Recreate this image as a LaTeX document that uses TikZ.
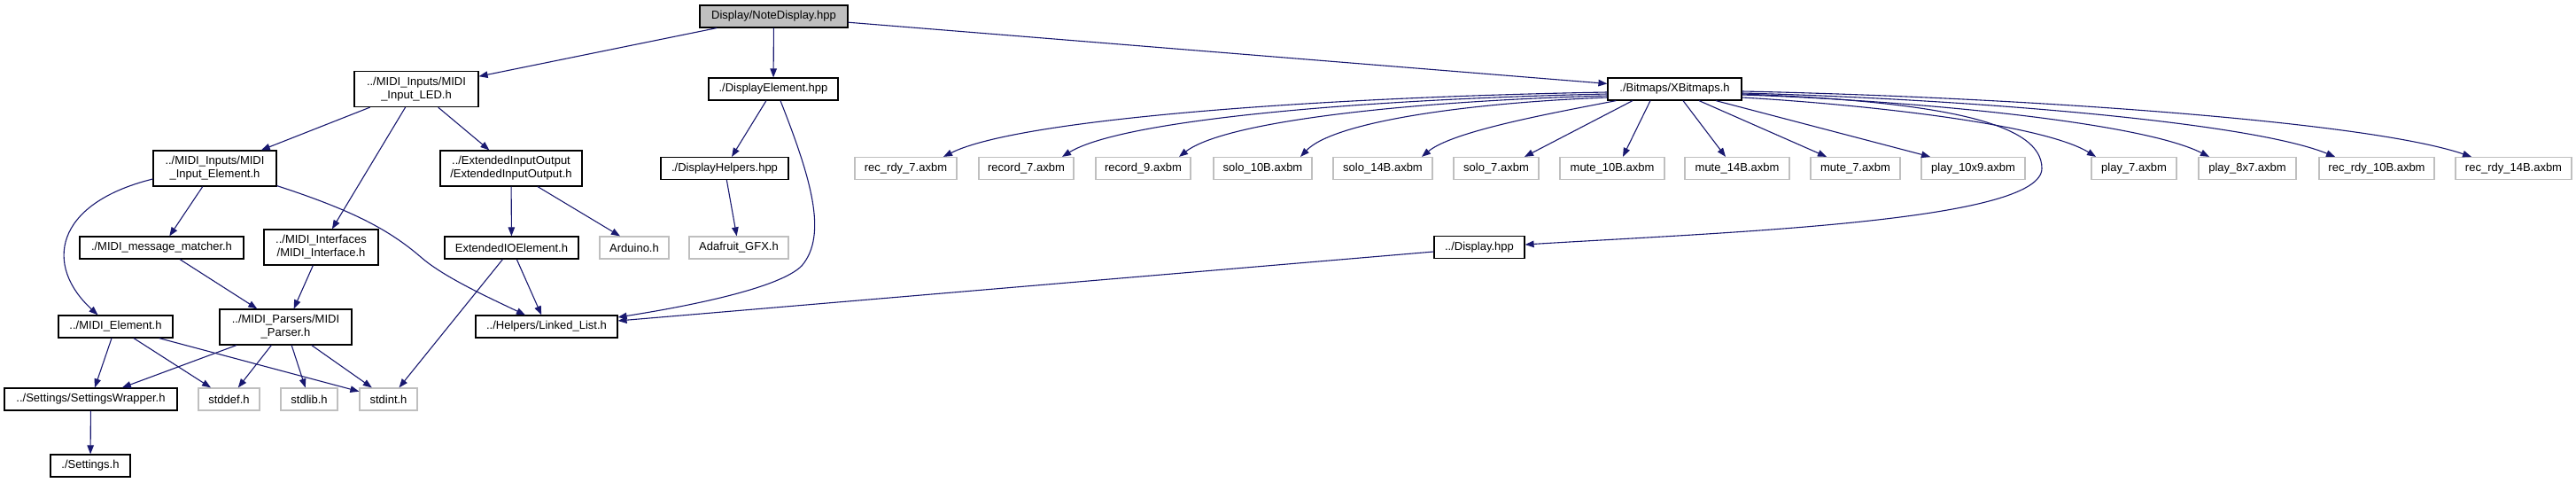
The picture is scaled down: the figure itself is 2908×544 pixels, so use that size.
\documentclass[tikz,border=0pt]{standalone}
\usepackage{fontspec}
\setmainfont{Liberation Sans}
\usetikzlibrary{arrows.meta}
\definecolor{edgec}{HTML}{191970}
\definecolor{extc}{HTML}{BFBFBF}
\begin{document}
\begin{tikzpicture}[x=1pt,y=-1pt,
 nbox/.style={draw=black, line width=1.2pt, inner sep=0pt, minimum height=25pt, align=center, font=\fontsize{13}{15}\selectfont, fill=white},
 tall/.style={minimum height=40pt},
 xnode/.style={nbox, draw=extc},
 dep/.style={draw=edgec, line width=1.1pt, -{Triangle[length=10pt,width=7.5pt]}}]
\useasboundingbox[fill=white] (0,0) rectangle (2908,544);

% nodes
\node[nbox, fill=extc, minimum width=167pt] (nd) at (873.5,18.5) {Display/NoteDisplay.hpp};
\node[nbox, tall, minimum width=140pt] (led) at (470,100.5) {../MIDI\_Inputs/MIDI\\\_Input\_LED.h};
\node[nbox, minimum width=146pt] (de) at (873,100.5) {./DisplayElement.hpp};
\node[nbox, minimum width=151pt] (xb) at (1890.5,100.5) {./Bitmaps/XBitmaps.h};
\node[nbox, tall, minimum width=139pt] (ie) at (242.5,190) {../MIDI\_Inputs/MIDI\\\_Input\_Element.h};
\node[nbox, tall, minimum width=160pt] (eio) at (577,190) {../ExtendedInputOutput\\/ExtendedInputOutput.h};
\node[nbox, minimum width=144pt] (dh) at (818,190) {./DisplayHelpers.hpp};

\node[xnode, minimum width=115pt] (r7) at (1022.5,190) {rec\_rdy\_7.axbm};
\node[xnode, minimum width=107pt] (rc7) at (1158.5,190) {record\_7.axbm};
\node[xnode, minimum width=107pt] (rc9) at (1290.5,190) {record\_9.axbm};
\node[xnode, minimum width=111pt] (s10) at (1425.5,190) {solo\_10B.axbm};
\node[xnode, minimum width=112pt] (s14) at (1561,190) {solo\_14B.axbm};
\node[xnode, minimum width=96pt] (s7) at (1689,190) {solo\_7.axbm};
\node[xnode, minimum width=118pt] (m10) at (1820,190) {mute\_10B.axbm};
\node[xnode, minimum width=118pt] (m14) at (1961,190) {mute\_14B.axbm};
\node[xnode, minimum width=101pt] (m7) at (2094.5,190) {mute\_7.axbm};
\node[xnode, minimum width=117pt] (p109) at (2227.5,190) {play\_10x9.axbm};
\node[xnode, minimum width=96pt] (p7) at (2409,190) {play\_7.axbm};
\node[xnode, minimum width=110pt] (p87) at (2537,190) {play\_8x7.axbm};
\node[xnode, minimum width=130pt] (r10) at (2683,190) {rec\_rdy\_10B.axbm};
\node[xnode, minimum width=131pt] (r14) at (2837.5,190) {rec\_rdy\_14B.axbm};

\node[nbox, minimum width=185pt] (mm) at (182.5,279.5) {./MIDI\_message\_matcher.h};
\node[nbox, tall, minimum width=129pt] (mi) at (362.5,279) {../MIDI\_Interfaces\\/MIDI\_Interface.h};
\node[nbox, minimum width=151pt] (eioe) at (577.5,279.5) {ExtendedIOElement.h};
\node[xnode, minimum width=78pt] (ard) at (716,279.5) {Arduino.h};
\node[xnode, minimum width=112pt] (gfx) at (834,279.5) {Adafruit\_GFX.h};
\node[nbox, minimum width=102pt] (disp) at (1670,279) {../Display.hpp};

\node[nbox, minimum width=129pt] (me) at (130.5,368.5) {../MIDI\_Element.h};
\node[nbox, tall, minimum width=149pt] (mp) at (322.5,369) {../MIDI\_Parsers/MIDI\\\_Parser.h};
\node[nbox, minimum width=160pt] (ll) at (617,368.5) {../Helpers/Linked\_List.h};

\node[nbox, minimum width=195pt] (sw) at (102.5,450.5) {../Settings/SettingsWrapper.h};
\node[xnode, minimum width=69pt] (sdef) at (258.5,450.5) {stddef.h};
\node[xnode, minimum width=64pt] (slib) at (349,450.5) {stdlib.h};
\node[xnode, minimum width=65pt] (sint) at (438.5,450.5) {stdint.h};
\node[nbox, minimum width=90pt] (set) at (102,525.5) {./Settings.h};

% edges
\draw[dep] (nd) -- (led);
\draw[dep] (nd) -- (de);
\draw[dep] (nd) -- (xb);
\draw[dep] (led) -- (ie);
\draw[dep] (led) -- (mi);
\draw[dep] (led) -- (eio);
\draw[dep] (de) -- (dh);
\draw[dep] ([xshift=8pt]de.south) .. controls (915,200) and (935,265) .. (905,300)
   .. controls (880,325) and (780,345) .. ([yshift=10.5pt]ll.east);

% XBitmaps fan-out
\draw[dep] ([yshift=-3.5pt]xb.west) .. controls (1478,110) and (1148,135) .. ([xshift=42.5pt]r7.north);
\draw[dep] ([yshift=-5.5pt]xb.west) .. controls (1538,112) and (1267,135) .. ([xshift=40.5pt]rc7.north);
\draw[dep] ([yshift=-7.5pt]xb.west) .. controls (1597,114) and (1384,136) .. ([xshift=40.5pt]rc9.north);
\draw[dep] ([yshift=-9.5pt]xb.west) .. controls (1659,116) and (1506,137) .. ([xshift=42.5pt]s10.north);
\draw[dep] ([xshift=10pt]xb.south west) .. controls (1750,128) and (1640,148) .. ([xshift=44pt]s14.north);
\draw[dep] ([xshift=-47.5pt]xb.south) -- ([xshift=32pt]s7.north);
\draw[dep] ([xshift=-27.5pt]xb.south) -- ([xshift=12pt]m10.north);
\draw[dep] ([xshift=9.5pt]xb.south) -- ([xshift=-13pt]m14.north);
\draw[dep] ([xshift=27.5pt]xb.south) -- ([xshift=-32.5pt]m7.north);
\draw[dep] ([xshift=46.5pt]xb.south) -- ([xshift=-48.5pt]p109.north);
\draw[dep] ([yshift=-9.5pt]xb.east) .. controls (2106,118) and (2306,140) .. ([xshift=-43pt]p7.north);
\draw[dep] ([yshift=-6.5pt]xb.east) .. controls (2151,113) and (2415,137) .. ([xshift=-43pt]p87.north);
\draw[dep] ([yshift=-4.5pt]xb.east) .. controls (2200,111) and (2535,136) .. ([xshift=-47pt]r10.north);
\draw[dep] ([yshift=-2.5pt]xb.east) .. controls (2254,109) and (2666,135) .. ([xshift=-47.5pt]r14.north);
\draw[dep] ([yshift=-5.5pt]xb.east) .. controls (2200,115) and (2305,140) .. (2305,190)
   .. controls (2305,250) and (1950,262) .. ([yshift=3pt]disp.east);

\draw[dep] ([yshift=-5pt]disp.west) -- ([yshift=6.5pt]ll.east);

\draw[dep] (ie) -- (mm);
\draw[dep] ([yshift=-12pt]ie.west) .. controls (60,230) and (50,300) .. ([xshift=-20pt]me.north);
\draw[dep] ([yshift=1pt]ie.south east) .. controls (400,238) and (440,260) .. (475,290)
   .. controls (500,312) and (550,335) .. ([xshift=-24pt]ll.north);

\draw[dep] (eio) -- (eioe);
\draw[dep] ([xshift=30pt]eio.south) -- ([xshift=-16pt]ard.north);
\draw[dep] (dh) -- (gfx);
\draw[dep] (mm) -- (mp);
\draw[dep] (mi) -- (mp);
\draw[dep] (eioe) -- (ll);
\draw[dep] ([xshift=-10pt]eioe.south) -- ([xshift=12pt]sint.north);

\draw[dep] (me) -- (sw);
\draw[dep] (me) -- (sdef);
\draw[dep] (me) -- (sint);
\draw[dep] (mp) -- (sw);
\draw[dep] (mp) -- (sdef);
\draw[dep] (mp) -- (slib);
\draw[dep] (mp) -- (sint);
\draw[dep] (sw) -- (set);
\end{tikzpicture}
\end{document}
